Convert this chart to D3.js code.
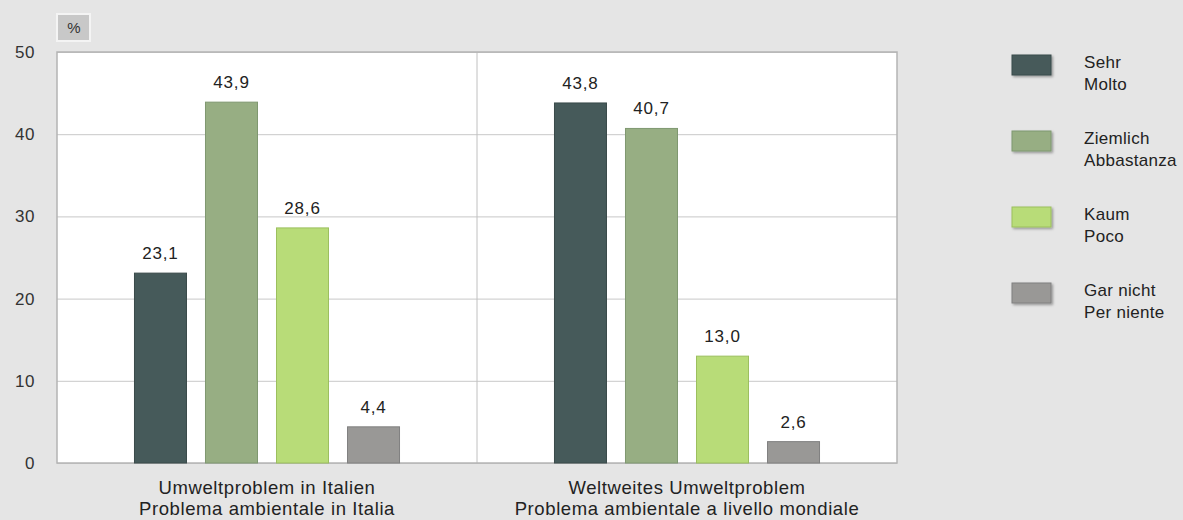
<!DOCTYPE html>
<html>
<head>
<meta charset="utf-8">
<script src="https://cdn.jsdelivr.net/npm/d3@7"></script>
<style>
  body { margin: 0; background: #e5e5e5; }
  svg { display: block; font-family: 'Liberation Sans', Arial, sans-serif; }
</style>
</head>
<body>
<div id="chart"></div>
<script>
const groups = ['Umweltproblem in Italien|Problema ambientale in Italia',
  'Weltweites Umweltproblem|Problema ambientale a livello mondiale']
const series = ['Sehr|Molto', 'Ziemlich|Abbastanza', 'Kaum|Poco', 'Gar nicht|Per niente']
const italy = [23.1, 43.9, 28.6, 4.4]
const world = [43.8, 40.7, 13.0, 2.6]
const yTicks = [0, 10, 20, 30, 40, 50]
const colors = ['#465a5a', '#97ae83', '#b8dc78', '#999896']
const strokes = ['#3a4a4a', '#7f9870', '#9cbf5e', '#808080']

const width = 1183
const height = 520
const plot = { left: 57, right: 897, top: 52, bottom: 463 }

const svg = d3.select('#chart').append('svg')
  .attr('width', width)
  .attr('height', height)

svg.append('rect').attr('width', width).attr('height', height).attr('fill', '#e5e5e5')

const x0 = d3.scaleBand().domain(groups).range([plot.left, plot.right])
const x1 = d3.scaleBand().domain(series).range([0, x0.bandwidth()])
  .paddingInner(0.2535).paddingOuter(1.084)
const y = d3.scaleLinear().domain([0, 50]).range([plot.bottom, plot.top])

// plot background
svg.append('rect')
  .attr('x', plot.left).attr('y', plot.top)
  .attr('width', plot.right - plot.left).attr('height', plot.bottom - plot.top)
  .attr('fill', '#fff')

// gridlines
const yAxis = d3.axisLeft(y).tickValues(yTicks).tickSize(-(plot.right - plot.left)).tickFormat(d => d)
const ga = svg.append('g').attr('transform', `translate(${plot.left},0)`).call(yAxis)
ga.select('.domain').remove()
ga.selectAll('.tick line').attr('stroke', '#c8c8c8').attr('stroke-width', 1)
ga.selectAll('.tick text').attr('x', -22).attr('fill', '#333').attr('font-size', 17)
  .attr('letter-spacing', 0.5)
  .attr('font-family', "'Liberation Sans', Arial, sans-serif")

// divider
svg.append('line')
  .attr('x1', x0(groups[1])).attr('x2', x0(groups[1]))
  .attr('y1', plot.top).attr('y2', plot.bottom)
  .attr('stroke', '#c0c0c0')

// border
svg.append('rect')
  .attr('x', plot.left).attr('y', plot.top)
  .attr('width', plot.right - plot.left).attr('height', plot.bottom - plot.top)
  .attr('fill', 'none').attr('stroke', '#b4b4b4').attr('stroke-width', 1.5)

const data = [italy, world]
const gs = svg.selectAll('.grp').data(groups).enter().append('g')
  .attr('class', 'grp')
  .attr('transform', d => `translate(${x0(d)},0)`)

gs.each(function (g, gi) {
  const sel = d3.select(this)
  const vals = data[gi].map((v, i) => ({ s: series[i], v, i }))
  sel.selectAll('rect').data(vals).enter().append('rect')
    .attr('x', d => x1(d.s) + 0.5)
    .attr('y', d => y(d.v))
    .attr('width', x1.bandwidth() - 1)
    .attr('height', d => y(0) - y(d.v))
    .attr('fill', d => colors[d.i])
    .attr('stroke', d => strokes[d.i])
  sel.selectAll('text.val').data(vals).enter().append('text')
    .attr('class', 'val')
    .attr('x', d => x1(d.s) + x1.bandwidth() / 2)
    .attr('y', d => y(d.v) - 14)
    .attr('text-anchor', 'middle')
    .attr('font-size', 17)
    .attr('letter-spacing', 0.8)
    .attr('fill', '#222')
    .text(d => d.v.toFixed(1).replace('.', ','))
  // category label
  const lines = g.split('|')
  sel.append('text')
    .attr('x', x0.bandwidth() / 2)
    .attr('y', 494)
    .attr('text-anchor', 'middle')
    .attr('font-size', 18.5)
    .attr('letter-spacing', 0.6)
    .attr('fill', '#222')
    .selectAll('tspan').data(lines).enter().append('tspan')
    .attr('x', x0.bandwidth() / 2)
    .attr('dy', (d, i) => i ? 21 : 0)
    .text(d => d)
})

// % box
svg.append('rect').attr('x', 57).attr('y', 14).attr('width', 33).attr('height', 27)
  .attr('fill', '#c8c8c8').attr('stroke', '#f4f4f4').attr('stroke-width', 2)
svg.append('text').attr('x', 74).attr('y', 33).attr('text-anchor', 'middle')
  .attr('font-size', 15).attr('fill', '#333').text('%')

// legend
const defs = svg.append('defs')
const f = defs.append('filter').attr('id', 'sh').attr('x', '-20%').attr('y', '-20%').attr('width', '150%').attr('height', '160%')
f.append('feDropShadow').attr('dx', 1.5).attr('dy', 1.5).attr('stdDeviation', 1).attr('flood-color', '#000').attr('flood-opacity', 0.35)

const legendY = d3.scalePoint().domain(series).range([55, 283])
const lg = svg.selectAll('.lg').data(series).enter().append('g')
  .attr('transform', d => `translate(1012,${legendY(d)})`)
lg.append('rect').attr('width', 39).attr('height', 20)
  .attr('fill', (d, i) => colors[i]).attr('stroke', (d, i) => strokes[i])
  .attr('filter', 'url(#sh)')
lg.append('text').attr('x', 72).attr('y', 13).attr('font-size', 17).attr('fill', '#222')
  .attr('letter-spacing', 0.3)
  .selectAll('tspan').data(d => d.split('|')).enter().append('tspan')
  .attr('x', 72).attr('dy', (d, i) => i ? 22 : 0)
  .text(d => d)
</script>
</body>
</html>
